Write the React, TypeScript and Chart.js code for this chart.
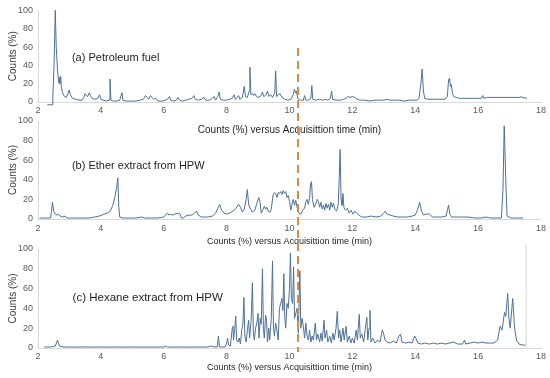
import React, { useEffect, useRef } from "react";
import { Chart, registerables } from "chart.js";

Chart.register(...registerables);

// ---------- data ----------
const timeMin = 2;
const timeMax = 18;
const timeStep = 2;
const countMin = 0;
const countMax = 100;
const countStep = 20;

const xAxisTitle = "Counts (%) versus Acquisittion time (min)";
const yAxisTitle = "Counts (%)";
const panelLabels = ["(a) Petroleum fuel", "(b) Ether extract from HPW", "(c) Hexane extract from HPW"];

// marker (dashed) retention time
const markerTime = 10.27;

// (a) Petroleum fuel: [time (min), counts (%)]
const fuelTrace: [number, number][] = [
  [2.3, -3], [2.46, -3], [2.47, 3], [2.51, 40], [2.55, 100], [2.58, 60], [2.62, 35], [2.65, 24],
  [2.67, 20], [2.69, 27], [2.7, 21], [2.72, 28], [2.74, 17], [2.78, 10], [2.84, 6], [2.9, 5],
  [2.95, 9], [2.99, 13], [3.03, 8], [3.1, 4], [3.2, 3], [3.3, 2], [3.4, 2], [3.46, 5],
  [3.5, 9], [3.54, 7], [3.58, 6], [3.63, 10], [3.67, 7], [3.72, 4], [3.8, 3], [3.9, 4],
  [3.96, 8], [4.0, 3], [4.08, 2], [4.18, 1], [4.26, 2], [4.29, 25], [4.32, 2], [4.4, 1],
  [4.5, 1], [4.6, 2], [4.67, 10], [4.7, 2], [4.8, 1], [4.95, 1], [5.1, 1], [5.25, 2],
  [5.35, 3], [5.42, 7], [5.47, 5], [5.52, 3], [5.58, 7], [5.62, 5], [5.68, 3], [5.75, 4],
  [5.82, 1], [5.95, 1], [6.05, 2], [6.12, 3], [6.18, 6], [6.22, 2], [6.3, 1], [6.4, 2],
  [6.45, 5], [6.5, 2], [6.6, 1], [6.7, 2], [6.8, 3], [6.9, 4], [6.96, 7], [7.0, 3],
  [7.1, 2], [7.2, 3], [7.28, 5], [7.33, 2], [7.45, 2], [7.55, 4], [7.6, 6], [7.65, 2],
  [7.72, 6], [7.76, 11], [7.8, 3], [7.9, 2], [8.0, 2], [8.1, 3], [8.18, 4], [8.24, 8],
  [8.28, 3], [8.34, 5], [8.38, 7], [8.42, 3], [8.5, 5], [8.56, 17], [8.6, 6], [8.66, 5],
  [8.72, 12], [8.74, 38], [8.77, 8], [8.82, 9], [8.86, 7], [8.9, 9], [8.95, 6], [9.0, 5],
  [9.08, 6], [9.14, 11], [9.18, 6], [9.24, 7], [9.3, 12], [9.34, 6], [9.4, 8], [9.46, 5],
  [9.53, 10], [9.56, 34], [9.59, 6], [9.64, 8], [9.7, 9], [9.76, 5], [9.85, 3], [9.95, 2],
  [10.05, 3], [10.12, 8], [10.16, 14], [10.19, 10], [10.22, 12], [10.26, 4], [10.34, 2], [10.44, 2],
  [10.48, 7], [10.52, 2], [10.6, 2], [10.68, 4], [10.71, 18], [10.74, 3], [10.85, 2], [10.95, 3],
  [11.05, 2], [11.15, 3], [11.22, 2], [11.3, 4], [11.34, 12], [11.37, 3], [11.5, 2], [11.62, 2],
  [11.72, 3], [11.8, 4], [11.86, 6], [11.92, 5], [12.0, 6], [12.08, 5], [12.15, 3], [12.25, 2],
  [12.4, 2], [12.55, 1], [12.7, 2], [12.85, 2], [13.0, 2], [13.1, 3], [13.2, 2], [13.35, 2],
  [13.5, 2], [13.65, 1], [13.8, 2], [13.95, 2], [14.05, 2], [14.12, 4], [14.18, 20], [14.22, 36],
  [14.26, 12], [14.3, 4], [14.4, 3], [14.55, 3], [14.7, 3], [14.85, 3], [14.95, 3], [15.02, 6],
  [15.06, 24], [15.09, 26], [15.12, 17], [15.15, 19], [15.18, 10], [15.22, 6], [15.3, 5], [15.4, 4],
  [15.55, 4], [15.7, 4], [15.85, 4], [16.0, 4], [16.1, 4], [16.15, 7], [16.18, 4], [16.3, 5],
  [16.45, 5], [16.6, 5], [16.75, 5], [16.9, 5], [17.05, 5], [17.2, 5], [17.33, 5], [17.36, 6],
  [17.4, 5], [17.55, 4],
];

// (b) Ether extract from HPW
const etherTrace: [number, number][] = [
  [2.05, 1], [2.3, 1], [2.4, 1], [2.43, 8], [2.46, 17], [2.5, 8], [2.55, 5], [2.6, 4],
  [2.65, 5], [2.7, 3], [2.78, 2], [2.86, 3], [2.92, 1], [3.0, 1], [3.2, 1], [3.4, 1],
  [3.6, 1], [3.8, 2], [3.95, 3], [4.1, 5], [4.2, 6], [4.3, 8], [4.38, 14], [4.45, 23],
  [4.5, 32], [4.54, 42], [4.57, 12], [4.6, 2], [4.7, 1], [4.9, 1], [5.1, 1], [5.3, 2],
  [5.4, 1], [5.6, 1], [5.8, 1], [6.0, 2], [6.08, 5], [6.12, 6], [6.16, 4], [6.22, 5],
  [6.28, 4], [6.35, 5], [6.45, 6], [6.52, 5], [6.56, 1], [6.62, 1], [6.7, 3], [6.8, 4],
  [6.9, 4], [6.98, 6], [7.04, 8], [7.1, 4], [7.2, 2], [7.4, 2], [7.55, 3], [7.65, 6],
  [7.72, 11], [7.78, 15], [7.84, 9], [7.92, 6], [8.0, 5], [8.1, 6], [8.2, 8], [8.3, 11],
  [8.38, 15], [8.44, 12], [8.5, 7], [8.56, 10], [8.62, 20], [8.66, 30], [8.7, 15], [8.76, 10],
  [8.82, 7], [8.9, 9], [8.96, 16], [9.02, 22], [9.06, 18], [9.1, 6], [9.16, 10], [9.2, 13],
  [9.24, 10], [9.28, 12], [9.32, 8], [9.38, 7], [9.42, 10], [9.48, 25], [9.52, 27], [9.56, 26],
  [9.6, 22], [9.64, 27], [9.68, 26], [9.72, 28], [9.76, 25], [9.8, 29], [9.84, 26], [9.88, 28],
  [9.92, 22], [9.96, 24], [10.0, 18], [10.04, 9], [10.08, 15], [10.12, 20], [10.16, 14], [10.2, 19],
  [10.24, 12], [10.3, 6], [10.36, 5], [10.42, 9], [10.48, 11], [10.52, 18], [10.56, 20], [10.6, 15],
  [10.64, 22], [10.67, 36], [10.7, 38], [10.73, 20], [10.78, 12], [10.84, 16], [10.88, 20], [10.92, 18],
  [10.96, 12], [11.0, 17], [11.04, 10], [11.08, 14], [11.12, 9], [11.16, 16], [11.2, 11], [11.24, 15],
  [11.28, 9], [11.32, 17], [11.36, 12], [11.4, 16], [11.44, 10], [11.5, 8], [11.55, 15], [11.58, 40],
  [11.61, 71], [11.64, 20], [11.67, 14], [11.7, 26], [11.73, 12], [11.78, 9], [11.84, 11], [11.9, 6],
  [11.96, 9], [12.02, 5], [12.08, 8], [12.14, 6], [12.2, 4], [12.3, 2], [12.45, 2], [12.6, 3],
  [12.75, 2], [12.9, 3], [13.0, 6], [13.05, 8], [13.1, 5], [13.2, 4], [13.3, 3], [13.45, 2],
  [13.6, 2], [13.75, 2], [13.9, 3], [14.0, 4], [14.08, 10], [14.14, 17], [14.2, 8], [14.26, 4],
  [14.35, 5], [14.45, 5], [14.55, 2], [14.7, 2], [14.85, 2], [14.98, 3], [15.03, 10], [15.06, 14],
  [15.1, 5], [15.16, 2], [15.3, 2], [15.5, 2], [15.7, 2], [15.9, 1], [16.1, 1], [16.25, 2],
  [16.4, 1], [16.6, 1], [16.74, 1], [16.79, 30], [16.83, 95], [16.88, 40], [16.92, 3], [17.05, 1],
  [17.25, 1], [17.43, 1],
];

// (c) Hexane extract from HPW
const hexaneTrace: [number, number][] = [
  [2.2, 1], [2.4, 1], [2.55, 2], [2.62, 8], [2.68, 2], [2.8, 1], [3.0, 1], [3.5, 1],
  [4.0, 1], [4.5, 1], [5.0, 1], [5.5, 1], [6.0, 1], [6.08, 2], [6.12, 1], [6.5, 1],
  [7.0, 1], [7.4, 1], [7.5, 2], [7.62, 1], [7.7, 1], [7.74, 12], [7.77, 1], [7.95, 1],
  [8.0, 5], [8.03, 10], [8.06, 3], [8.12, 2], [8.18, 20], [8.2, 22], [8.22, 8], [8.26, 20],
  [8.29, 32], [8.32, 8], [8.36, 6], [8.4, 10], [8.44, 4], [8.48, 18], [8.52, 25], [8.55, 51],
  [8.58, 12], [8.62, 6], [8.66, 18], [8.7, 28], [8.73, 10], [8.78, 28], [8.82, 66], [8.85, 15],
  [8.88, 8], [8.92, 20], [8.96, 25], [9.0, 35], [9.03, 10], [9.07, 30], [9.1, 24], [9.14, 80],
  [9.17, 20], [9.2, 10], [9.24, 33], [9.27, 28], [9.3, 6], [9.34, 20], [9.37, 8], [9.42, 30],
  [9.46, 88], [9.49, 20], [9.52, 12], [9.56, 25], [9.6, 18], [9.64, 8], [9.68, 40], [9.72, 45],
  [9.76, 50], [9.79, 38], [9.82, 75], [9.85, 30], [9.88, 20], [9.92, 45], [9.96, 40], [10.0, 60],
  [10.03, 96], [10.06, 50], [10.1, 45], [10.13, 82], [10.16, 30], [10.2, 35], [10.24, 40], [10.28, 15],
  [10.33, 78], [10.36, 20], [10.4, 30], [10.44, 22], [10.48, 10], [10.52, 25], [10.56, 12], [10.6, 8],
  [10.64, 18], [10.68, 6], [10.72, 12], [10.76, 8], [10.82, 25], [10.86, 8], [10.9, 14], [10.96, 6],
  [11.0, 15], [11.04, 7], [11.1, 28], [11.13, 10], [11.18, 18], [11.22, 6], [11.28, 12], [11.33, 5],
  [11.38, 15], [11.42, 8], [11.48, 20], [11.52, 37], [11.56, 10], [11.6, 18], [11.64, 6], [11.7, 20],
  [11.74, 8], [11.8, 22], [11.84, 6], [11.9, 12], [11.95, 5], [12.0, 10], [12.06, 5], [12.12, 18],
  [12.16, 8], [12.22, 34], [12.25, 10], [12.3, 14], [12.36, 6], [12.42, 22], [12.46, 31], [12.49, 8],
  [12.53, 20], [12.56, 38], [12.59, 6], [12.65, 10], [12.72, 5], [12.8, 8], [12.88, 6], [12.95, 18],
  [12.99, 15], [13.04, 8], [13.1, 6], [13.2, 5], [13.3, 7], [13.4, 5], [13.48, 12], [13.53, 14],
  [13.58, 6], [13.7, 5], [13.8, 6], [13.9, 5], [13.98, 12], [14.02, 10], [14.08, 5], [14.2, 4],
  [14.3, 5], [14.45, 4], [14.58, 5], [14.7, 4], [14.85, 5], [14.95, 4], [15.1, 5], [15.22, 6],
  [15.35, 4], [15.5, 4], [15.57, 8], [15.6, 4], [15.75, 5], [15.88, 6], [16.0, 5], [16.12, 6],
  [16.25, 5], [16.4, 5], [16.5, 5], [16.62, 8], [16.7, 22], [16.76, 18], [16.84, 36], [16.88, 32],
  [16.94, 55], [16.98, 30], [17.02, 20], [17.1, 50], [17.16, 20], [17.22, 8], [17.3, 4], [17.4, 3],
  [17.5, 3],
];

// right edge line of panel (c)
const hexaneEdge: [number, number][] = [[17.53, 0], [17.53, 104]];

// ---------- styling ----------
const FONT = '"Liberation Sans", Arial, Helvetica, sans-serif';
const TRACE = "#4e7098";
const AXIS = "#d9d9d9";
const TICK = "#595959";
const TEXT = "#1f1f1f";
const MARKER = "#e0893f";
const W = 550;
const H = 378;

type Panel = {
  trace: [number, number][];
  label: string;
  labelTime: number;
  labelCount: number;
  labelSize: number;
  top: number;
  bottom: number;
  xHeight: number;
  tickPad: number;
  titleSize: number;
  edge?: [number, number][];
  marker?: [number, number];
};

const panels: Panel[] = [
  { trace: fuelTrace, label: panelLabels[0], labelTime: 3.08, labelCount: 48, labelSize: 11,
    top: 10, bottom: 102, xHeight: 34, tickPad: 3, titleSize: 10 },
  { trace: etherTrace, label: panelLabels[1], labelTime: 3.08, labelCount: 54, labelSize: 11,
    top: 121, bottom: 219, xHeight: 28.4, tickPad: 4, titleSize: 9 },
  { trace: hexaneTrace, label: panelLabels[2], labelTime: 3.1, labelCount: 50.5, labelSize: 11.5,
    top: 249, bottom: 348, xHeight: 25.4, tickPad: 3.5, titleSize: 9, edge: hexaneEdge,
    marker: [303, -4] },
];

function buildChart(canvas: HTMLCanvasElement, p: Panel) {
  const datasets: any[] = [
    {
      data: p.trace.map(([t, c]) => ({ x: t, y: c })),
      borderColor: TRACE,
      borderWidth: 1,
      pointRadius: 0,
      tension: 0,
      clip: false,
    },
  ];
  if (p.edge) {
    datasets.push({
      data: p.edge.map(([t, c]) => ({ x: t, y: c })),
      borderColor: AXIS,
      borderWidth: 1,
      pointRadius: 0,
      clip: false,
    });
  }
  const overlay = {
    id: "overlay",
    afterDatasetsDraw(chart: any) {
      const ctx = chart.ctx;
      const xs = chart.scales.x;
      const ys = chart.scales.y;
      ctx.save();
      ctx.fillStyle = TEXT;
      ctx.font = `${p.labelSize}px ${FONT}`;
      ctx.textAlign = "left";
      ctx.textBaseline = "middle";
      ctx.fillText(p.label, xs.getPixelForValue(p.labelTime), ys.getPixelForValue(p.labelCount));
      if (p.marker) {
        const x = xs.getPixelForValue(markerTime);
        ctx.strokeStyle = MARKER;
        ctx.lineWidth = 2;
        ctx.setLineDash([8, 5]);
        ctx.beginPath();
        ctx.moveTo(x, ys.getPixelForValue(p.marker[0]));
        ctx.lineTo(x, ys.getPixelForValue(p.marker[1]));
        ctx.stroke();
      }
      ctx.restore();
    },
  };
  return new Chart(canvas, {
    type: "line",
    data: { datasets },
    options: {
      animation: false,
      responsive: false,
      layout: { padding: { top: p.top, bottom: H - p.bottom - p.xHeight, left: 0, right: 9 } },
      plugins: { legend: { display: false }, tooltip: { enabled: false } },
      scales: {
        x: {
          type: "linear",
          min: timeMin,
          max: timeMax,
          ticks: {
            stepSize: timeStep,
            color: TICK,
            font: { family: FONT, size: 9 },
            padding: p.tickPad,
            maxRotation: 0,
            autoSkip: false,
          },
          grid: { display: false, drawTicks: false },
          border: { display: true, color: AXIS, width: 1 },
          title: {
            display: true,
            text: xAxisTitle,
            color: TEXT,
            font: { family: FONT, size: p.titleSize },
            padding: { top: 0, bottom: 0 },
          },
          afterFit: (s: any) => {
            s.height = p.xHeight;
          },
        },
        y: {
          min: countMin,
          max: countMax,
          ticks: {
            stepSize: countStep,
            color: TICK,
            font: { family: FONT, size: 9 },
            padding: 5,
          },
          grid: { display: false, drawTicks: false },
          border: { display: true, color: AXIS, width: 1 },
          title: {
            display: true,
            text: yAxisTitle,
            color: "#404040",
            font: { family: FONT, size: 10 },
            padding: { top: 7, bottom: 0 },
          },
          afterFit: (s: any) => {
            s.width = 38;
          },
        },
      },
    } as any,
    plugins: [overlay],
  });
}

export default function App() {
  const refA = useRef<HTMLCanvasElement>(null);
  const refB = useRef<HTMLCanvasElement>(null);
  const refC = useRef<HTMLCanvasElement>(null);

  useEffect(() => {
    const canvases = [refA.current, refB.current, refC.current];
    const charts = canvases.map((c, i) => (c ? buildChart(c, panels[i]) : null));
    return () => {
      charts.forEach((ch) => ch && ch.destroy());
    };
  }, []);

  const style: React.CSSProperties = { position: "absolute", left: 0, top: 0 };
  return (
    <div style={{ position: "absolute", left: 0, top: 0, width: W, height: H, background: "#fff" }}>
      <canvas ref={refA} width={W} height={H} style={style} />
      <canvas ref={refB} width={W} height={H} style={style} />
      <canvas ref={refC} width={W} height={H} style={style} />
    </div>
  );
}
